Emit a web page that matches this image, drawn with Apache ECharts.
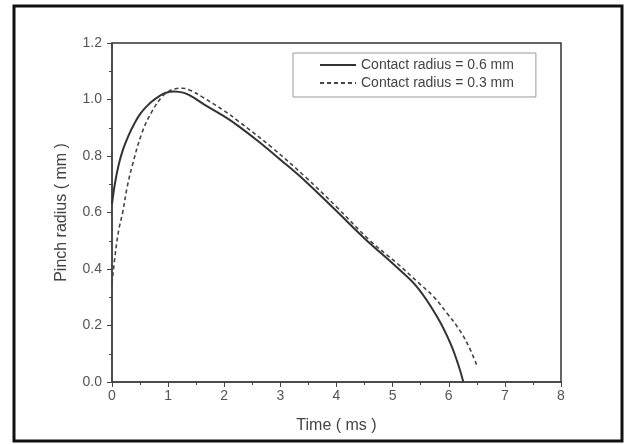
<!DOCTYPE html>
<html>
<head>
<meta charset="utf-8">
<script src="https://cdn.jsdelivr.net/npm/echarts@6/dist/echarts.min.js"></script>
<style>
  html, body { margin: 0; padding: 0; background: #fff; }
  #chart { width: 629px; height: 444px; }
</style>
</head>
<body>
<div id="chart"></div>
<script>
// contact radius = 0.6 mm (solid)
var t06 = [0, 0.05, 0.12, 0.2, 0.3, 0.4, 0.5, 0.6, 0.71, 0.85, 0.95, 1.1, 1.2, 1.37, 1.66, 2.0, 2.26, 2.6, 3.0, 3.45, 4.0, 4.5, 5.08, 5.44, 5.79, 6.03, 6.18, 6.26];
var r06 = [0.63, 0.70, 0.77, 0.825, 0.875, 0.915, 0.948, 0.972, 0.993, 1.013, 1.023, 1.028, 1.027, 1.016, 0.98, 0.94, 0.905, 0.853, 0.787, 0.71, 0.605, 0.508, 0.405, 0.335, 0.232, 0.137, 0.055, 0];
// contact radius = 0.3 mm (dashed)
var t03 = [0, 0.06, 0.12, 0.19, 0.27, 0.36, 0.53, 0.71, 0.89, 1.0, 1.13, 1.25, 1.4, 1.6, 2.0, 2.26, 2.85, 3.45, 4.0, 4.6, 5.08, 5.44, 5.73, 5.97, 6.15, 6.33, 6.51];
var r03 = [0.35, 0.456, 0.538, 0.6, 0.69, 0.765, 0.88, 0.957, 1.01, 1.028, 1.038, 1.04, 1.032, 1.01, 0.96, 0.922, 0.83, 0.725, 0.62, 0.5, 0.42, 0.355, 0.302, 0.243, 0.196, 0.137, 0.054];

var seriesNames = ['Contact radius = 0.6 mm', 'Contact radius = 0.3 mm'];
var xName = 'Time ( ms )';
var yName = 'Pinch radius ( mm )';

function pairs(xs, ys) {
    var arr = [];
    xs.forEach(function (x, i) {
        arr.push([x, ys[i]]);
    });
    return arr;
}

var myChart = echarts.init(document.getElementById('chart'));
var option = {
    animation: false,
    backgroundColor: '#fff',
    textStyle: { fontFamily: 'Liberation Sans, Arial, sans-serif' },
    graphic: [
        {
            type: 'rect',
            shape: { x: 14, y: 6, width: 608, height: 435 },
            style: { fill: 'none', stroke: '#111', lineWidth: 3 }
        }
    ],
    grid: {
        left: 112, right: 68, top: 43, bottom: 62,
        show: true,
        borderColor: '#333',
        borderWidth: 1.5
    },
    legend: {
        orient: 'vertical',
        left: 293, top: 53,
        padding: [5, 22, 7, 26],
        itemGap: 4,
        itemWidth: 36,
        itemHeight: 14,
        itemStyle: { opacity: 0 },
        borderColor: '#999',
        borderWidth: 1,
        borderRadius: 0,
        textStyle: { fontSize: 14, color: '#444' },
        data: seriesNames
    },
    xAxis: {
        type: 'value',
        min: 0, max: 8, interval: 1,
        name: xName,
        nameLocation: 'middle',
        nameGap: 36,
        nameTextStyle: { fontSize: 16, color: '#444' },
        axisLine: { lineStyle: { color: '#444', width: 1.5 } },
        axisTick: { length: 5, lineStyle: { color: '#444' } },
        minorTick: { show: true, splitNumber: 2, length: 3, lineStyle: { color: '#444' } },
        splitLine: { show: false },
        axisLabel: { fontSize: 14, color: '#555', margin: 7 }
    },
    yAxis: {
        type: 'value',
        min: 0, max: 1.2, interval: 0.2,
        name: yName,
        nameLocation: 'middle',
        nameGap: 42,
        nameTextStyle: { fontSize: 16, color: '#444' },
        axisLine: { show: true, lineStyle: { color: '#444', width: 1.5 } },
        axisTick: { show: true, length: 5, lineStyle: { color: '#444' } },
        minorTick: { show: true, splitNumber: 2, length: 3, lineStyle: { color: '#444' } },
        splitLine: { show: false },
        axisLabel: {
            fontSize: 14, color: '#555', margin: 10,
            formatter: function (v) { return v.toFixed(1); }
        }
    },
    series: [
        {
            name: seriesNames[0],
            type: 'line',
            smooth: 0.4,
            symbol: 'none',
            data: pairs(t06, r06),
            lineStyle: { color: '#333', width: 2 },
            itemStyle: { color: '#333' }
        },
        {
            name: seriesNames[1],
            type: 'line',
            smooth: 0.4,
            symbol: 'none',
            data: pairs(t03, r03),
            lineStyle: { color: '#444', width: 1.6, type: [4, 3] },
            itemStyle: { color: '#444' }
        }
    ]
};
myChart.setOption(option);
</script>
</body>
</html>
